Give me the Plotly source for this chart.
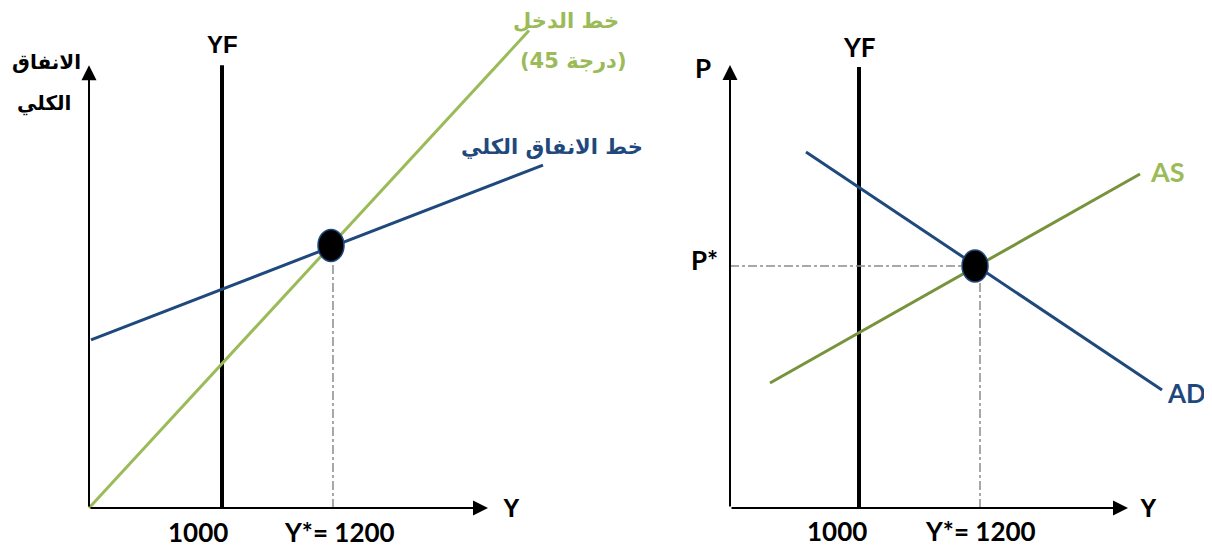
"""
Keynesian cross + AD/AS diagrams
"""
import plotly.graph_objects as go

# left panel (aggregate expenditure vs income)
left_axis_end = [399, 408]          # x tip, y tip
yf_left = 133
ystar_left = 244
eq_left = [242, 242]
income_x = [0, 440]                 # 45 degree line
income_y = [0, 440]
spending_x = [2, 454]
spending_y = [155, 316]

# right panel (price level vs output)
right_axis_end = [398, 443]
yf_right = 129
ystar_right = 250
pstar = 242
eq_right = [245, 242]
ad_x = [76, 432]
ad_y = [356, 118]
as_x = [40, 410]
as_y = [125, 334]

tick_labels = ["1000", "Y*= 1200"]

GREEN = "#9BBB59"
OLIVE = "#77933C"
BLUE = "#1F497D"
GREY = "#8C8C8C"
CAL = "Lato, Open Sans, sans-serif"
ARI = "Liberation Sans, Arial, sans-serif"
ARAB = "DejaVu Sans, Noto Sans, sans-serif"

# page body adds an 8px margin, so the figure is 8px smaller
W, H = 1204, 540
SPLIT = 598 / W


def add_line(fig, x, y, color, width, xa, ya, dash="solid"):
    fig.add_trace(go.Scatter(x=x, y=y, mode="lines", xaxis=xa, yaxis=ya,
                             line=dict(color=color, width=width, dash=dash),
                             hoverinfo="skip", showlegend=False))


def add_arrow(fig, x0, y0, x1, y1, xr, yr):
    fig.add_annotation(x=x1, y=y1, ax=x0, ay=y0, xref=xr, yref=yr, axref=xr, ayref=yr,
                       text="", showarrow=True, arrowhead=2, arrowsize=1.5,
                       arrowwidth=2, arrowcolor="black", standoff=0)


def add_text(fig, x, y, text, xr, yr, size, color="black", family=CAL, xshift=0):
    fig.add_annotation(x=x, y=y, xref=xr, yref=yr, text="<b>%s</b>" % text,
                       showarrow=False, xshift=xshift,
                       font=dict(size=size, color=color, family=family))


fig = go.Figure()

# ---- left panel
add_line(fig, [yf_left, yf_left], [0, left_axis_end[1]], "black", 4, "x", "y")
add_line(fig, [ystar_left, ystar_left], [0, eq_left[1] - 14], GREY, 1.5, "x", "y", "dashdot")
add_line(fig, income_x, income_y, GREEN, 3, "x", "y")
add_line(fig, spending_x, spending_y, BLUE, 3, "x", "y")
add_arrow(fig, 0, 0, 0, left_axis_end[1], "x", "y")
add_arrow(fig, 0, 0, left_axis_end[0], 0, "x", "y")

# ---- right panel
add_line(fig, [yf_right, yf_right], [0, right_axis_end[1] - 2], "black", 4, "x2", "y2")
add_line(fig, [0, eq_right[0] - 12], [pstar, pstar], GREY, 1.5, "x2", "y2", "dashdot")
add_line(fig, [ystar_right, ystar_right], [0, eq_right[1] - 16], GREY, 1.5, "x2", "y2", "dashdot")
add_line(fig, as_x, as_y, OLIVE, 3, "x2", "y2")
add_line(fig, ad_x, ad_y, BLUE, 3, "x2", "y2")
add_arrow(fig, 0, 0, 0, right_axis_end[1], "x2", "y2")
add_arrow(fig, 0, 0, right_axis_end[0], 0, "x2", "y2")

# equilibrium dots
fig.add_shape(type="circle", xref="x", yref="y",
              x0=eq_left[0] - 13, x1=eq_left[0] + 13,
              y0=eq_left[1] - 16 / 1.085, y1=eq_left[1] + 16 / 1.085,
              fillcolor="black", line=dict(color=BLUE, width=1.5))
fig.add_shape(type="circle", xref="x2", yref="y2",
              x0=eq_right[0] - 13, x1=eq_right[0] + 13,
              y0=eq_right[1] - 16, y1=eq_right[1] + 16,
              fillcolor="black", line=dict(color=BLUE, width=1.5))

# labels, left
add_text(fig, yf_left, 427, "YF", "x", "y", 24, family=ARI)
add_text(fig, -43, 411, "الانفاق", "x", "y", 20, family=ARAB)
add_text(fig, -45, 373, "الكلي", "x", "y", 20, family=ARAB)
add_text(fig, 477, 449, "خط الدخل", "x", "y", 21, GREEN, ARAB)
add_text(fig, 484, 412, "(45 درجة)", "x", "y", 21, GREEN, ARAB)
add_text(fig, 463, 333, "خط الانفاق الكلي", "x", "y", 21, BLUE, ARAB)
add_text(fig, yf_left, -22, tick_labels[0], "x", "y", 26, xshift=-24)
add_text(fig, ystar_left, -22, tick_labels[1], "x", "y", 26, xshift=6)
add_text(fig, 422, 0, "Y", "x", "y", 25, family=ARI)

# labels, right
add_text(fig, yf_right, 461, "YF", "x2", "y2", 26)
add_text(fig, -27, 440, "P", "x2", "y2", 26)
add_text(fig, -26, pstar + 6, "P*", "x2", "y2", 26)
add_text(fig, 437, 337, "AS", "x2", "y2", 27, GREEN)
add_text(fig, 456, 115, "AD", "x2", "y2", 26, BLUE)
add_text(fig, yf_right, -23, tick_labels[0], "x2", "y2", 26, xshift=-22)
add_text(fig, ystar_right, -23, tick_labels[1], "x2", "y2", 26)
add_text(fig, 418, 0, "Y", "x2", "y2", 25, family=ARI)

hidden = dict(visible=False, showgrid=False, zeroline=False, fixedrange=True)
fig.update_layout(
    width=W, height=H,
    margin=dict(l=0, r=0, t=0, b=0),
    paper_bgcolor="white", plot_bgcolor="white",
    showlegend=False,
    xaxis=dict(domain=[0, SPLIT], range=[-81, 517], **hidden),
    yaxis=dict(domain=[0, 1], range=[-36.87, 460.8], **hidden),
    xaxis2=dict(domain=[SPLIT, 1], range=[-124, 482], **hidden),
    yaxis2=dict(domain=[0, 1], range=[-40, 500], anchor="x2", **hidden),
)

fig.write_html("out.html")
